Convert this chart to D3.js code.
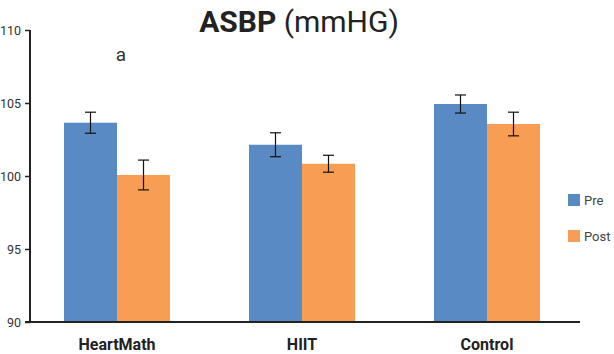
<!DOCTYPE html>
<html lang="en">
<head>
<meta charset="UTF-8"/>
<title>ASBP (mmHG)</title>
<script src="https://d3js.org/d3.v7.min.js"></script>
<style>
  body { margin: 0; background: #fff; }
  text { font-family: Roboto, "Noto Sans", sans-serif; }
</style>
</head>
<body>
<script>
var w = 614;
var h = 354;

var groups = ["HeartMath", "HIIT", "Control"];
var series = ["Pre", "Post"];
var preValues = [103.65, 102.14, 104.93];
var postValues = [100.07, 100.84, 103.56];
var preErrors = [0.72, 0.82, 0.62];
var postErrors = [1.02, 0.58, 0.81];
var yTicks = [90, 95, 100, 105, 110];
var colors = ["#5a8ac4", "#f79e54"];

var rows = [];
groups.forEach(function(g, i) {
    rows.push({group: g, key: "Pre", value: preValues[i], err: preErrors[i]});
    rows.push({group: g, key: "Post", value: postValues[i], err: postErrors[i]});
});

var x0 = d3.scaleBand().domain(groups).range([24.5, 579.5]);
var x1 = d3.scaleBand().domain(series).range([0, x0.bandwidth()])
            .paddingInner(0).paddingOuter(0.745);
var yScale = d3.scaleLinear().domain([90, 110]).range([322, 30]);
var color = d3.scaleOrdinal().domain(series).range(colors);

var svg = d3.select("body").append("svg")
            .attr("width", w)
            .attr("height", h);

/* title */
var title = svg.append("text")
    .attr("x", 299)
    .attr("y", 32)
    .attr("text-anchor", "middle")
    .attr("font-size", "30px")
    .attr("fill", "#222");
title.append("tspan").attr("font-weight", "bold").text("ASBP");
title.append("tspan").text(" (mmHG)");

/* bars */
svg.selectAll("rect.bar")
    .data(rows)
    .enter()
    .append("rect")
    .attr("class", "bar")
    .attr("x", d => x0(d.group) + x1(d.key))
    .attr("y", d => yScale(d.value))
    .attr("width", x1.bandwidth())
    .attr("height", d => yScale(90) - yScale(d.value))
    .attr("fill", d => color(d.key));

/* error bars */
var eb = svg.selectAll("g.err")
    .data(rows)
    .enter()
    .append("g")
    .attr("class", "err")
    .attr("stroke", "#111")
    .attr("stroke-width", 1.2);

eb.append("line")
    .attr("x1", d => x0(d.group) + x1(d.key) + x1.bandwidth() / 2)
    .attr("x2", d => x0(d.group) + x1(d.key) + x1.bandwidth() / 2)
    .attr("y1", d => yScale(d.value + d.err))
    .attr("y2", d => yScale(d.value - d.err));
[1, -1].forEach(function(s) {
    eb.append("line")
        .attr("x1", d => x0(d.group) + x1(d.key) + x1.bandwidth() / 2 - 5.5)
        .attr("x2", d => x0(d.group) + x1(d.key) + x1.bandwidth() / 2 + 5.5)
        .attr("y1", d => yScale(d.value + s * d.err))
        .attr("y2", d => yScale(d.value + s * d.err));
});

/* significance mark */
svg.append("text")
    .attr("x", x0("HeartMath") + x0.bandwidth() / 2 + 4)
    .attr("y", 61)
    .attr("text-anchor", "middle")
    .attr("font-size", "19px")
    .attr("fill", "#333")
    .text("a");

/* y axis */
var yAxis = d3.axisLeft(yScale).tickValues(yTicks).tickSize(5).tickPadding(4);
var gy = svg.append("g")
    .attr("transform", "translate(30,0)")
    .call(yAxis);
gy.select(".domain").remove();
gy.selectAll(".tick line").attr("stroke", "#222").attr("stroke-width", 1.5);
gy.selectAll(".tick text")
    .attr("font-family", "Roboto, sans-serif")
    .attr("font-size", "12.5px")
    .attr("fill", "#333");
svg.append("line")
    .attr("x1", 30).attr("x2", 30)
    .attr("y1", yScale(110)).attr("y2", yScale(90) + 1)
    .attr("stroke", "#222").attr("stroke-width", 2);

/* x axis */
svg.append("line")
    .attr("x1", 25).attr("x2", 580)
    .attr("y1", yScale(90)).attr("y2", yScale(90))
    .attr("stroke", "#222").attr("stroke-width", 2);
svg.selectAll("text.cat")
    .data(groups)
    .enter()
    .append("text")
    .attr("class", "cat")
    .attr("x", d => x0(d) + x0.bandwidth() / 2)
    .attr("y", 350)
    .attr("text-anchor", "middle")
    .attr("font-size", "16px")
    .attr("font-weight", "bold")
    .attr("fill", "#222")
    .text(d => d);

/* legend */
var leg = svg.selectAll("g.leg")
    .data(series)
    .enter()
    .append("g")
    .attr("class", "leg")
    .attr("transform", (d, i) => "translate(568," + (194 + i * 36) + ")");
leg.append("rect")
    .attr("width", 12).attr("height", 12)
    .attr("fill", d => color(d));
leg.append("text")
    .attr("x", 16).attr("y", 11)
    .attr("font-size", "13px")
    .attr("fill", "#444")
    .text(d => d);
</script>
</body>
</html>
